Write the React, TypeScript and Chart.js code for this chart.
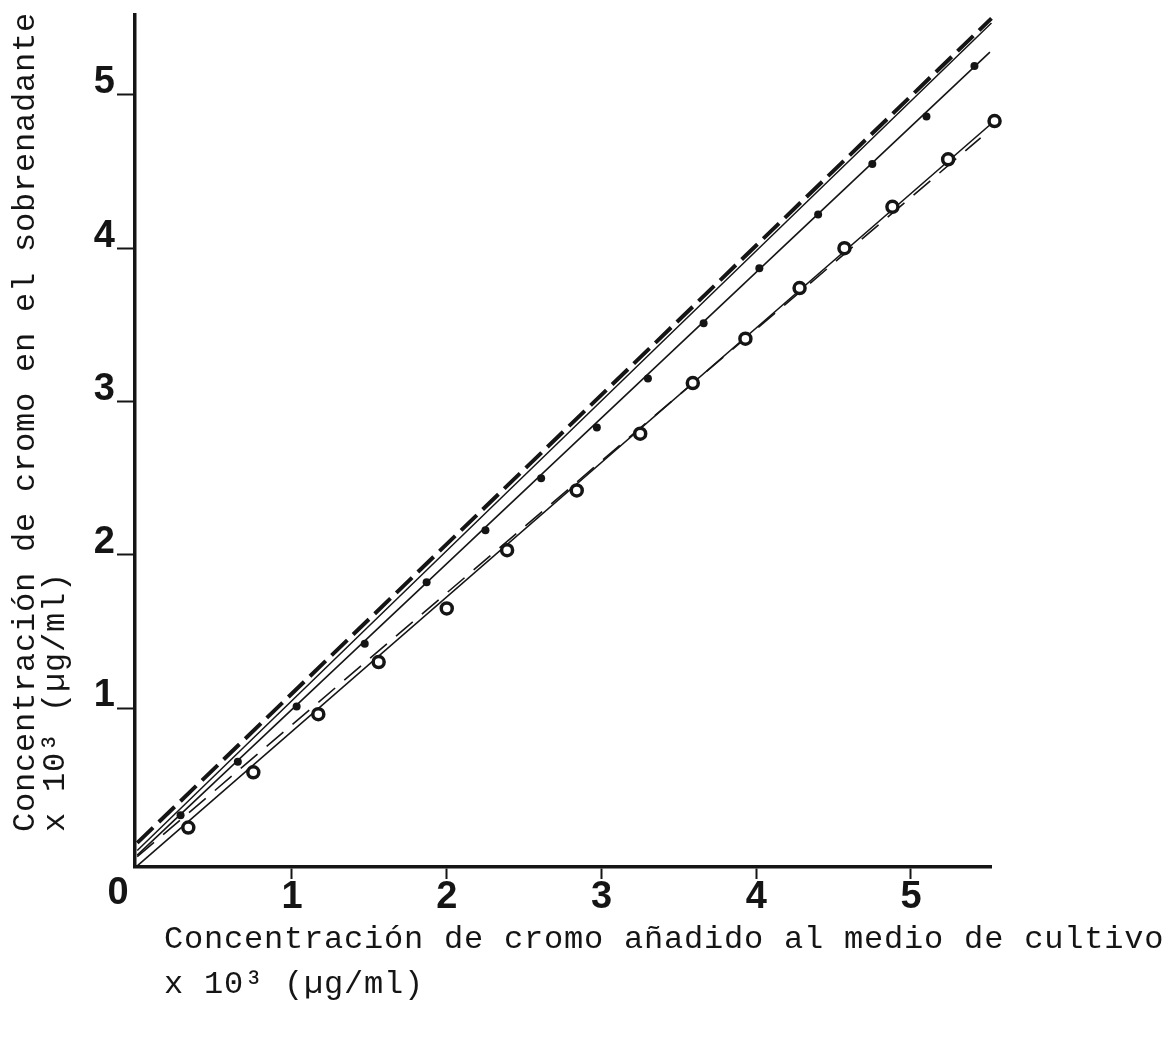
import { useEffect, useRef } from 'react';
import { Chart, registerables } from 'chart.js';

Chart.register(...registerables);

const ink = '#151515';

// Filled-dot series (x: added chromium, y: chromium in supernatant), ×10³ µg/ml
const dotX = [0.28, 0.65, 1.03, 1.47, 1.87, 2.25, 2.61, 2.97, 3.30, 3.66, 4.02, 4.40, 4.75, 5.10, 5.41];
const dotY = [0.30, 0.65, 1.01, 1.42, 1.82, 2.16, 2.50, 2.83, 3.15, 3.51, 3.87, 4.22, 4.55, 4.86, 5.19];

// Open-circle series
const ringX = [0.33, 0.75, 1.17, 1.56, 2.00, 2.39, 2.84, 3.25, 3.59, 3.93, 4.28, 4.57, 4.88, 5.24, 5.54];
const ringY = [0.22, 0.58, 0.96, 1.30, 1.65, 2.03, 2.42, 2.79, 3.12, 3.41, 3.74, 4.00, 4.27, 4.58, 4.83];

// Straight reference / fitted lines, each from (x0, y0) to (x1, y1)
const upperDashX = [0, 5.52];
const upperDashY = [0.12, 5.5];
const upperThinX = [0, 5.52];
const upperThinY = [0.07, 5.47];
const dotFitX = [0, 5.51];
const dotFitY = [0.04, 5.28];
const ringFitX = [0, 5.55];
const ringFitY = [-0.03, 4.84];
const ringDashX = [0, 5.45];
const ringDashY = [0.03, 4.72];

const xTicks = [1, 2, 3, 4, 5];
const yTicks = [1, 2, 3, 4, 5];

const xTitle = ['Concentración de cromo añadido al medio de cultivo', 'x 10³ (µg/ml)'];
const yTitle = ['Concentración de cromo en el sobrenadante', 'x 10³ (µg/ml)'];

const pts = (xs: number[], ys: number[]) => xs.map((x, i) => ({ x, y: ys[i] }));

const tickFont = { family: '"Liberation Sans", Arial, sans-serif', weight: 'bold' as const, size: 38 };

// Axis titles in typewriter style plus the shared origin label
const titlesPlugin = {
  id: 'axisTitles',
  afterDraw(chart: Chart) {
    const ctx = chart.ctx;
    ctx.save();
    ctx.fillStyle = ink;
    ctx.font = 'bold 38px "Liberation Sans", Arial, sans-serif';
    ctx.textAlign = 'center';
    ctx.textBaseline = 'middle';
    ctx.fillText('0', 118, 894);

    ctx.font = '32px "Liberation Mono", monospace';
    (ctx as any).letterSpacing = '0.8px';
    ctx.textAlign = 'left';
    xTitle.forEach((t, i) => ctx.fillText(t, 164, 940 + i * 45));

    ctx.translate(26, 832);
    ctx.rotate(-Math.PI / 2);
    yTitle.forEach((t, i) => ctx.fillText(t, 0, i * 30));
    ctx.restore();
  },
};

export default function App() {
  const canvasRef = useRef<HTMLCanvasElement | null>(null);

  useEffect(() => {
    const canvas = canvasRef.current;
    if (!canvas) return;

    const lineSet = (xs: number[], ys: number[], width: number, dash: number[]) => ({
      data: pts(xs, ys),
      showLine: true,
      pointRadius: 0,
      borderColor: ink,
      borderWidth: width,
      borderDash: dash,
      clip: false as const,
      order: 1,
    });

    const chart = new Chart(canvas, {
      type: 'scatter',
      data: {
        datasets: [
          {
            data: pts(ringX, ringY),
            pointRadius: 5.5,
            pointBorderWidth: 3.5,
            pointBorderColor: ink,
            pointBackgroundColor: '#ffffff',
            clip: false as const,
            order: 0,
          },
          {
            data: pts(dotX, dotY),
            pointRadius: 4,
            pointBorderWidth: 0,
            pointBackgroundColor: ink,
            clip: false as const,
            order: 0,
          },
          lineSet(upperDashX, upperDashY, 4, [22, 8]),
          lineSet(upperThinX, upperThinY, 1.5, []),
          lineSet(dotFitX, dotFitY, 1.6, []),
          lineSet(ringFitX, ringFitY, 1.6, []),
          lineSet(ringDashX, ringDashY, 1.6, [22, 12]),
        ],
      },
      options: {
        animation: false,
        responsive: false,
        layout: { padding: { top: 15, right: 177, bottom: 0, left: 0 } },
        plugins: { legend: { display: false }, tooltip: { enabled: false } },
        scales: {
          x: {
            type: 'linear',
            min: -0.0145,
            max: 5.517,
            afterBuildTicks: (s: any) => {
              s.ticks = xTicks.map((v) => ({ value: v }));
            },
            afterFit: (s: any) => {
              s.height = 173;
              s.paddingLeft = 0;
              s.paddingRight = 0;
            },
            grid: { drawOnChartArea: false, drawTicks: true, tickLength: 12, tickWidth: 2, tickColor: ink, color: ink },
            border: { display: true, color: ink, width: 3.5 },
            ticks: { color: ink, font: tickFont, padding: -4, maxRotation: 0, autoSkip: false },
          },
          y: {
            type: 'linear',
            min: -0.0375,
            max: 5.522,
            afterBuildTicks: (s: any) => {
              s.ticks = yTicks.map((v) => ({ value: v }));
            },
            afterFit: (s: any) => {
              s.width = 135;
              s.paddingTop = 0;
              s.paddingBottom = 0;
            },
            grid: { drawOnChartArea: false, drawTicks: true, tickLength: 18, tickWidth: 2, tickColor: ink, color: ink },
            border: { display: true, color: ink, width: 3.5 },
            ticks: { color: ink, font: tickFont, padding: 2, labelOffset: -12, autoSkip: false },
          },
        },
      },
      plugins: [titlesPlugin],
    });

    return () => chart.destroy();
  }, []);

  return (
    <div style={{ position: 'absolute', left: 0, top: 0, width: 1168, height: 1040, background: '#ffffff' }}>
      <canvas ref={canvasRef} width={1168} height={1040} style={{ display: 'block' }} />
    </div>
  );
}
